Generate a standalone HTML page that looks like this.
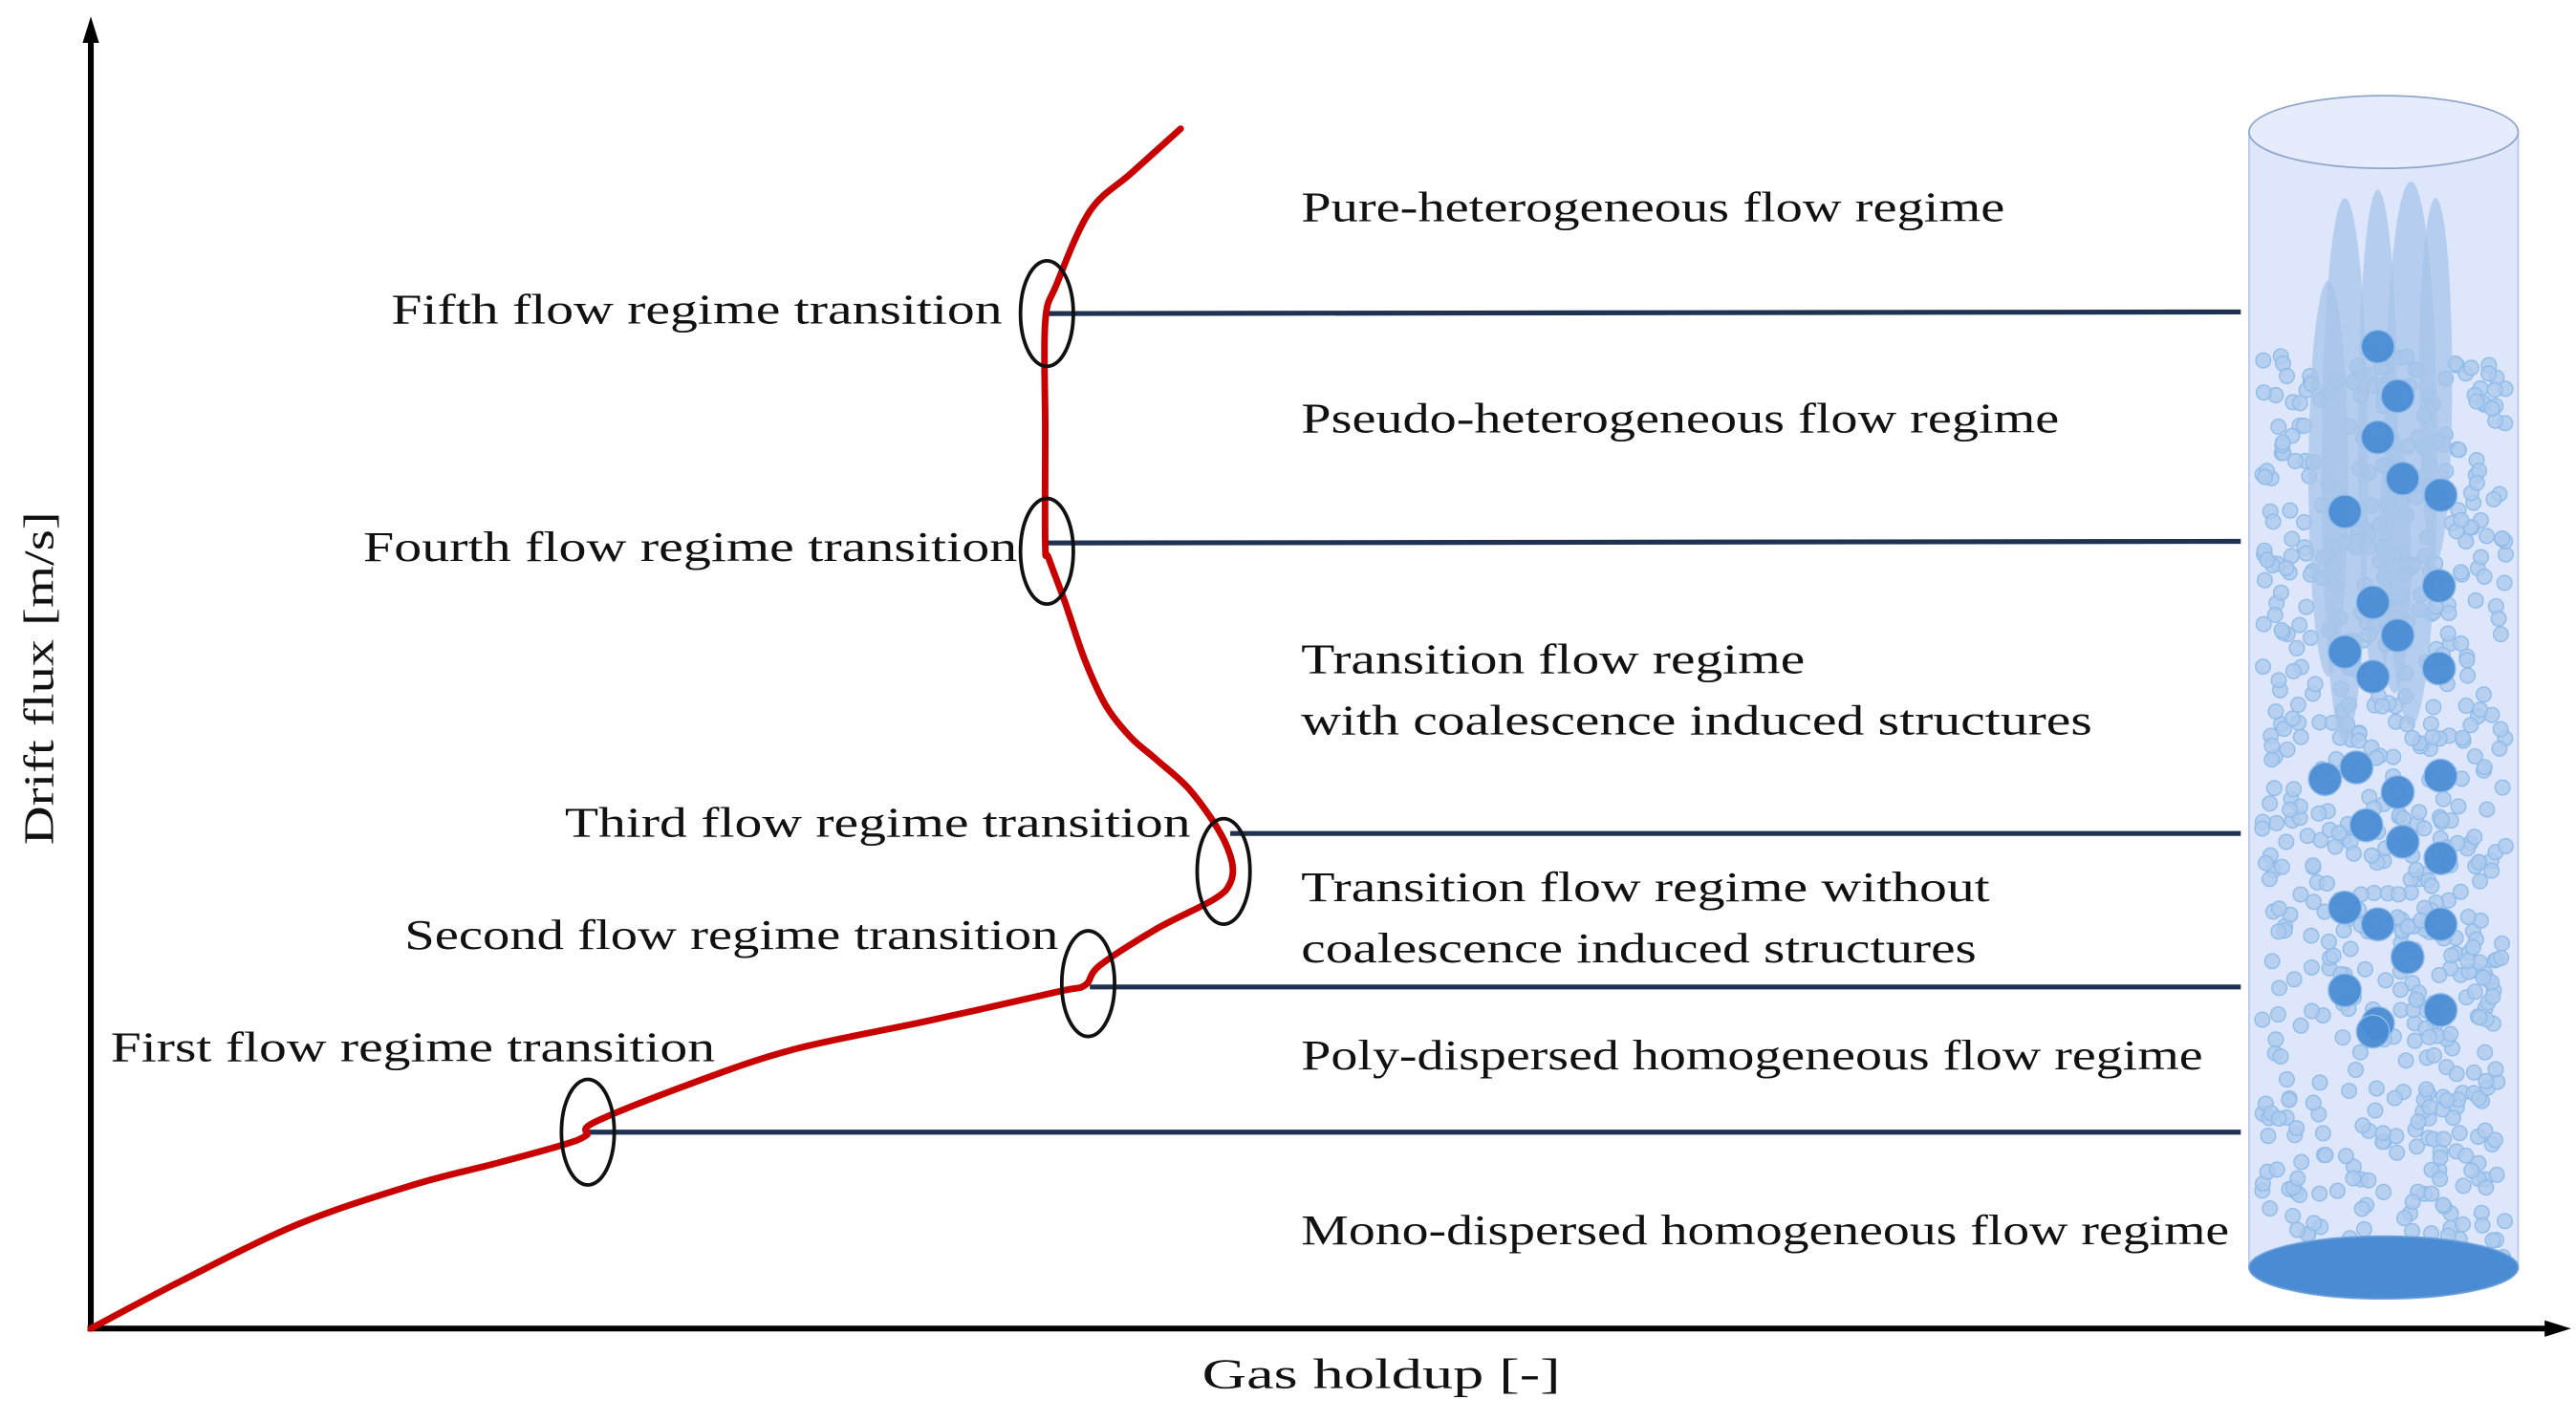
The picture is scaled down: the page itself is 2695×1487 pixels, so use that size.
<!DOCTYPE html>
<html><head><meta charset="utf-8"><style>
html,body{margin:0;padding:0;background:#fff;}
svg{display:block;}
text{font-family:"Liberation Serif",serif;fill:#111;}
</style></head><body>
<svg id="s" width="2695" height="1487" viewBox="0 0 1560 861" preserveAspectRatio="none" xmlns="http://www.w3.org/2000/svg">
<rect x="1362" y="80" width="163" height="688" fill="#dde6fa" stroke="#b8c8e8" stroke-width="1"/>
<g id="bub"></g>
<ellipse cx="1443.5" cy="80" rx="81.5" ry="22" fill="#e6ecfc" stroke="#8fa6cc" stroke-width="1"/>
<ellipse cx="1443.5" cy="768" rx="81.5" ry="19" fill="#4a8cd4" stroke="#6fa0dc" stroke-width="1"/>

<g stroke="#1f3252" stroke-width="3">
<line x1="633" y1="190" x2="1357" y2="189"/>
<line x1="633" y1="329" x2="1357" y2="328"/>
<line x1="745" y1="505" x2="1357" y2="505"/>
<line x1="660" y1="598" x2="1357" y2="598"/>
<line x1="356" y1="686" x2="1357" y2="686"/>
</g>
<g stroke="#000" stroke-width="3.5" fill="none">
<line x1="55" y1="806" x2="55" y2="22"/>
<line x1="53" y1="805" x2="1545" y2="805"/>
</g>
<polygon points="55,10 50,26 60,26" fill="#000"/>
<polygon points="1557,805 1541,800 1541,810" fill="#000"/>
<path id="curve" fill="none" stroke="#c80000" stroke-width="4" stroke-linejoin="round" stroke-linecap="round" d=""/>
<g fill="none" stroke="#111" stroke-width="2.2">
<ellipse cx="356" cy="686" rx="16" ry="32"/>
<ellipse cx="659" cy="596" rx="16" ry="32"/>
<ellipse cx="741" cy="528" rx="16" ry="32"/>
<ellipse cx="634" cy="334" rx="16" ry="32"/>
<ellipse cx="634" cy="190" rx="16" ry="32"/>
</g>
<g font-size="26">
<text x="788" y="134" textLength="426" lengthAdjust="spacingAndGlyphs">Pure-heterogeneous flow regime</text>
<text x="788" y="262" textLength="459" lengthAdjust="spacingAndGlyphs">Pseudo-heterogeneous flow regime</text>
<text x="788" y="408" textLength="305" lengthAdjust="spacingAndGlyphs">Transition flow regime</text>
<text x="788" y="445" textLength="479" lengthAdjust="spacingAndGlyphs">with coalescence induced structures</text>
<text x="788" y="546" textLength="417" lengthAdjust="spacingAndGlyphs">Transition flow regime without</text>
<text x="788" y="583" textLength="409" lengthAdjust="spacingAndGlyphs">coalescence induced structures</text>
<text x="788" y="648" textLength="546" lengthAdjust="spacingAndGlyphs">Poly-dispersed homogeneous flow regime</text>
<text x="788" y="754" textLength="562" lengthAdjust="spacingAndGlyphs">Mono-dispersed homogeneous flow regime</text>
<text x="237" y="196" textLength="370" lengthAdjust="spacingAndGlyphs">Fifth flow regime transition</text>
<text x="220" y="340" textLength="396" lengthAdjust="spacingAndGlyphs">Fourth flow regime transition</text>
<text x="342" y="507" textLength="379" lengthAdjust="spacingAndGlyphs">Third flow regime transition</text>
<text x="245" y="575" textLength="396" lengthAdjust="spacingAndGlyphs">Second flow regime transition</text>
<text x="67" y="643" textLength="366" lengthAdjust="spacingAndGlyphs">First flow regime transition</text>
<text x="728" y="841" textLength="217" lengthAdjust="spacingAndGlyphs">Gas holdup [-]</text>
<text x="0" y="0" transform="translate(32,512) rotate(-90)" textLength="202" lengthAdjust="spacingAndGlyphs">Drift flux [m/s]</text>
</g>
</svg>
<script>
(function(){
var P=[[55,805],[110,776],[180,742],[250,718],[300,705],[340,694],[355,688],[360,680],[420,656],[480,636],[560,619],[640,601],[657,597],[666,585],[700,563],[735,545],[745,535],[746,522],[738,503],[720,478],[700,460],[685,447],[670,428],[657,400],[645,365],[635,338],[633,330],[633,260],[633,195],[640,172],[660,128],[685,105],[715,78]];
var d='M'+P[0][0]+','+P[0][1];
for(var i=0;i<P.length-1;i++){var p0=P[i-1]||P[i],p1=P[i],p2=P[i+1],p3=P[i+2]||p2;
var c1=[p1[0]+(p2[0]-p0[0])/6,p1[1]+(p2[1]-p0[1])/6],c2=[p2[0]-(p3[0]-p1[0])/6,p2[1]-(p3[1]-p1[1])/6];
d+=' C'+c1[0].toFixed(1)+','+c1[1].toFixed(1)+' '+c2[0].toFixed(1)+','+c2[1].toFixed(1)+' '+p2[0]+','+p2[1];}
document.getElementById('curve').setAttribute('d',d);
var g=document.getElementById('bub'),ns='http://www.w3.org/2000/svg',seed=7;
function r(){seed=(seed*16807)%2147483647;return seed/2147483647;}
function c(x,y,rad,fill,op){var e=document.createElementNS(ns,'circle');e.setAttribute('cx',x);e.setAttribute('cy',y);e.setAttribute('r',rad);e.setAttribute('fill',fill);e.setAttribute('fill-opacity',op);e.setAttribute('stroke','#8fbbe9');e.setAttribute('stroke-width','0.8');g.appendChild(e);}
for(var i=0;i<650;i++){var x=1370+r()*148,y=215+r()*550;c(x,y,4.5,'#aecbee',0.8);}
var sl=[[1420,120,330,14],[1440,115,300,12],[1460,110,330,16],[1475,120,220,10],[1410,170,240,12],[1450,260,160,10]];
sl.forEach(function(s){var e=document.createElementNS(ns,'ellipse');e.setAttribute('cx',s[0]);e.setAttribute('cy',s[1]+s[2]/2);e.setAttribute('rx',s[3]);e.setAttribute('ry',s[2]/2);e.setAttribute('fill','#a7c4ea');e.setAttribute('fill-opacity','0.75');g.appendChild(e);});
var big=[[1440,210],[1452,240],[1440,265],[1455,290],[1478,300],[1420,310],[1477,355],[1437,365],[1420,395],[1452,385],[1477,405],[1437,410],[1408,472],[1427,465],[1452,480],[1478,470],[1433,500],[1455,510],[1478,520],[1420,550],[1440,560],[1458,580],[1478,560],[1420,600],[1440,620],[1478,612],[1437,625]];
big.forEach(function(b){c(b[0],b[1],10,'#4a8cd4',0.95);});
})();
</script>
</body></html>
